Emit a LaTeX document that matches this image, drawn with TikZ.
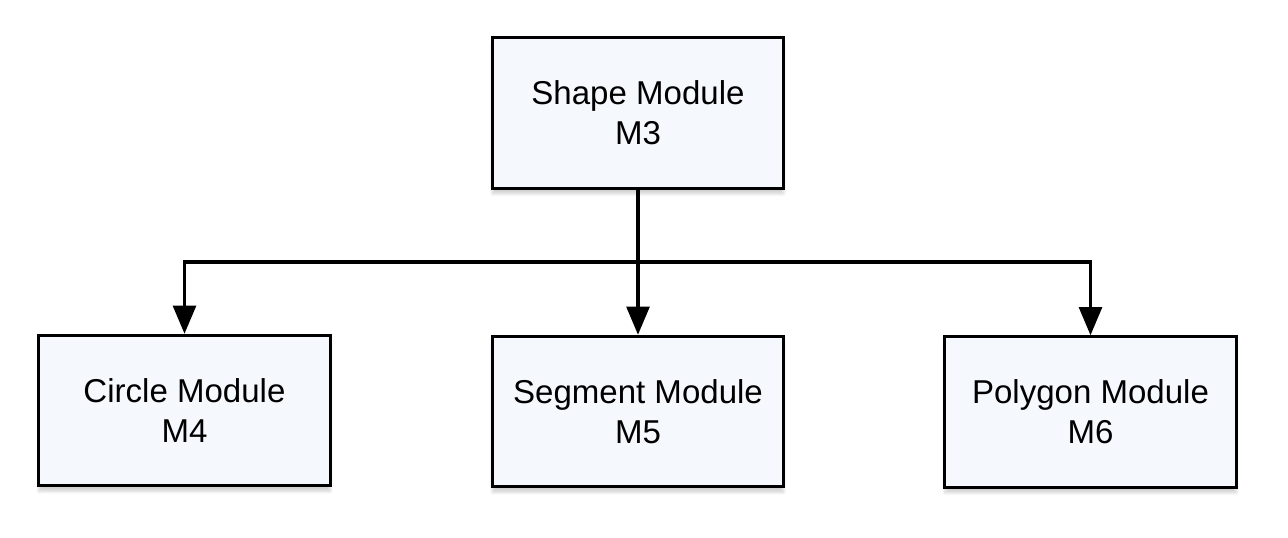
\documentclass[tikz,border=0pt]{standalone}
\usepackage{fontspec}
\setmainfont{Liberation Sans}
\usepackage{xcolor}
\usetikzlibrary{arrows.meta, positioning, shadows.blur}
\definecolor{modfill}{RGB}{245, 248, 253}

\begin{document}
\begin{tikzpicture}[x=0.025cm, y=-0.025cm,
    module/.style={rectangle, draw, line width=2.2pt, fill=modfill,
                   minimum width=7.28cm, minimum height=3.76cm, align=center,
                   font=\fontsize{23.5}{28.4}\selectfont,
                   blur shadow={shadow xshift=0pt, shadow yshift=-4pt,
                                shadow opacity=18, shadow blur steps=8}},
    link/.style={line width=2.2pt},
    arrow/.style={link, -{Triangle[length=0.7cm, width=0.57cm]}}]

    \useasboundingbox (0,0) rectangle (1288,538);

    % Modules
    \node[module] (m3) at (638, 113) {Shape Module\\M3};
    \node[module] (m4) at (184.5, 410.5) {Circle Module\\M4};
    \node[module] (m5) at (638, 411.5) {Segment Module\\M5};
    \node[module] (m6) at (1090.5, 412) {Polygon Module\\M6};

    % Arrows
    \coordinate (split) at (638, 262);
    \draw[link] (m3) -- (split);
    \draw[arrow] (split) -| (m4);
    \draw[arrow] (split) -- (m5);
    \draw[arrow] (split) -| (m6);
\end{tikzpicture}
\end{document}
